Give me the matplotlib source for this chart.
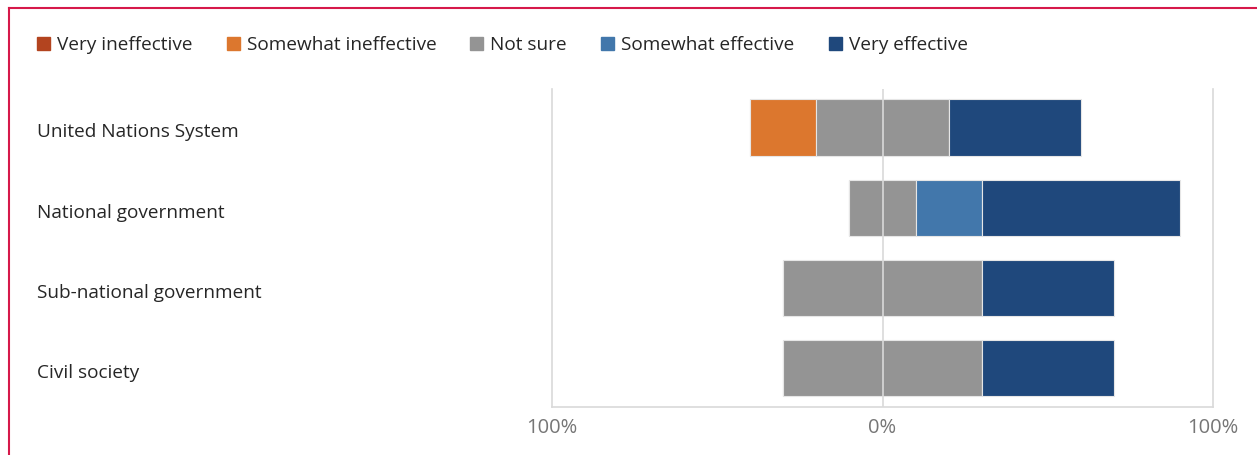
import matplotlib.pyplot as plt
import matplotlib.transforms as mtransforms
from matplotlib.patches import Rectangle
from matplotlib.lines import Line2D

plt.rcParams['font.family'] = ['Open Sans', 'DejaVu Sans']

# Data (percent of respondents)
categories = ["United Nations System", "National government",
              "Sub-national government", "Civil society"]
series = ["Very ineffective", "Somewhat ineffective", "Not sure",
          "Somewhat effective", "Very effective"]
very_ineffective = [0, 0, 0, 0]
somewhat_ineffective = [20, 0, 0, 0]
not_sure = [40, 20, 60, 60]
somewhat_effective = [0, 20, 0, 0]
very_effective = [40, 60, 40, 40]
ticks = [-100, 0, 100]
tick_labels = ["100%", "0%", "100%"]

colors = ["#B3441F", "#DC772E", "#949494", "#4277AB", "#1F487C"]

W, H = 1257, 456
fig = plt.figure(figsize=(W / 100, H / 100), dpi=100)
ax = fig.add_axes([552 / W, 1 - 408 / H, (1213 - 552) / W, (408 - 90) / H])

values = [very_ineffective, somewhat_ineffective, not_sure,
          somewhat_effective, very_effective]
y = list(range(len(categories)))
# diverging: start so that half of "not sure" sits left of zero
left = [-(very_ineffective[i] + somewhat_ineffective[i] + not_sure[i] / 2)
        for i in y]
for vals, col in zip(values, colors):
    ax.barh(y, vals, left=left, height=0.7, color=col,
            edgecolor="#e6e6e6", linewidth=0.8, zorder=2)
    left = [l + v for l, v in zip(left, vals)]

ax.axvline(0, color="#d9d9d9", lw=1.2, zorder=3)
ax.set_xlim(-100, 100)
ax.set_ylim(3.485, -0.48)

ax.spines["top"].set_visible(False)
for s in ["left", "right", "bottom"]:
    ax.spines[s].set_color("#d9d9d9")
    ax.spines[s].set_linewidth(1.2)

ax.set_xticks(ticks)
ax.set_xticklabels(tick_labels, fontsize=14.5, color="#767676")
ax.tick_params(axis="x", length=0, pad=7)
ax.set_yticks([])

label_tr = mtransforms.blended_transform_factory(fig.transFigure, ax.transData)
label_tr = mtransforms.offset_copy(label_tr, fig=fig, y=-4, units="dots")
for yi, cat in zip(y, categories):
    ax.text(37 / W, yi, cat, transform=label_tr,
            ha="left", va="center", fontsize=13.7, color="#262626")

# legend drawn by hand
leg_x = [37, 227, 470, 601, 829]
for x0, lab, col in zip(leg_x, series, colors):
    fig.patches.append(Rectangle((x0 / W, 1 - 51 / H), 13 / W, 13 / H,
                                 transform=fig.transFigure, color=col))
    fig.text((x0 + 20) / W, 1 - 45 / H, lab, ha="left", va="center",
             fontsize=13.7, color="#262626")

# red frame at top and left
fig.lines.append(Line2D([8.5 / W, 8.5 / W], [0, 1 - 8.5 / H],
                        transform=fig.transFigure, color="#D6194A", lw=1.5))
fig.lines.append(Line2D([8.5 / W, 1], [1 - 8.5 / H, 1 - 8.5 / H],
                        transform=fig.transFigure, color="#D6194A", lw=1.5))

fig.savefig("out.png", dpi=100)
